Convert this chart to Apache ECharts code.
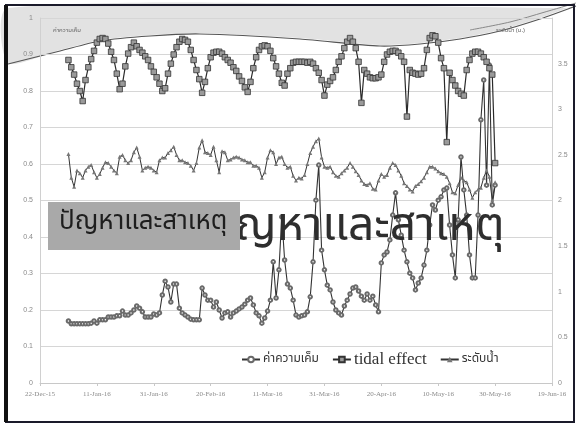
<!DOCTYPE html>
<html><head><meta charset="utf-8">
<script src="https://cdn.jsdelivr.net/npm/echarts@6/dist/echarts.min.js"></script>
<style>html,body{margin:0;padding:0;background:#fff}#c{width:579px;height:427px}</style>
</head><body><div id="c"></div>
<script>
const seriesNames = ['ค่าความเค็ม', 'tidal effect', 'ระดับน้ำ'];
const xTickLabels = ['22-Dec-15','11-Jan-16','31-Jan-16','20-Feb-16','11-Mar-16','31-Mar-16','20-Apr-16','10-May-16','30-May-16','19-Jun-16'];
const firstDay = 10; // 1-Jan-16, counted in days after 22-Dec-15
const salinity = [
0.170,0.162,0.162,0.162,0.162,0.162,0.162,0.162,0.164,0.170,
0.164,0.173,0.173,0.173,0.181,0.181,0.181,0.184,0.184,0.197,
0.186,0.186,0.192,0.200,0.211,0.205,0.195,0.181,0.181,0.181,
0.189,0.186,0.192,0.241,0.279,0.263,0.222,0.271,0.271,0.205,
0.192,0.186,0.181,0.175,0.173,0.173,0.173,0.260,0.241,0.227,
0.227,0.208,0.222,0.200,0.178,0.192,0.195,0.181,0.192,0.197,
0.203,0.208,0.216,0.227,0.233,0.214,0.192,0.184,0.164,0.178,
0.197,0.227,0.332,0.233,0.310,0.455,0.337,0.271,0.260,0.227,
0.186,0.181,0.184,0.186,0.195,0.236,0.332,0.501,0.597,0.364,
0.310,0.268,0.255,0.222,0.200,0.192,0.186,0.211,0.227,0.244,
0.260,0.263,0.252,0.238,0.227,0.244,0.227,0.238,0.214,0.195,
0.329,0.351,0.359,0.392,0.460,0.521,0.447,0.405,0.364,0.332,
0.301,0.288,0.255,0.274,0.288,0.323,0.364,0.433,0.488,0.474,
0.501,0.510,0.529,0.534,0.433,0.351,0.288,0.447,0.619,0.529,
0.460,0.351,0.288,0.288,0.460,0.721,0.830,0.542,0.871,0.488,
0.542];
const tidalEffect = [
3.54,3.46,3.38,3.28,3.20,3.09,3.32,3.46,3.55,3.64,
3.73,3.77,3.78,3.77,3.72,3.63,3.54,3.39,3.22,3.28,
3.47,3.61,3.68,3.73,3.69,3.65,3.62,3.58,3.54,3.47,
3.41,3.35,3.28,3.20,3.23,3.39,3.50,3.60,3.68,3.74,
3.77,3.76,3.74,3.65,3.54,3.43,3.33,3.18,3.30,3.45,
3.57,3.62,3.63,3.63,3.61,3.57,3.54,3.51,3.46,3.42,
3.36,3.31,3.24,3.19,3.30,3.45,3.57,3.65,3.69,3.70,
3.69,3.64,3.56,3.47,3.39,3.29,3.26,3.39,3.45,3.51,
3.52,3.52,3.52,3.52,3.51,3.52,3.50,3.45,3.40,3.32,
3.15,3.27,3.31,3.35,3.43,3.52,3.58,3.67,3.74,3.78,
3.74,3.67,3.52,3.07,3.43,3.39,3.35,3.34,3.34,3.35,
3.38,3.52,3.60,3.63,3.64,3.64,3.62,3.58,3.52,2.92,
3.43,3.40,3.39,3.38,3.39,3.45,3.65,3.78,3.81,3.80,
3.73,3.56,3.45,2.64,3.40,3.32,3.26,3.20,3.17,3.15,
3.43,3.54,3.61,3.63,3.63,3.61,3.57,3.52,3.45,3.38,
2.41];
const waterLevel = [
2.51,2.25,2.15,2.33,2.30,2.25,2.33,2.37,2.39,2.31,
2.25,2.29,2.36,2.42,2.41,2.37,2.33,2.30,2.48,2.50,
2.44,2.41,2.44,2.53,2.58,2.48,2.33,2.36,2.37,2.36,
2.33,2.31,2.44,2.47,2.47,2.52,2.55,2.59,2.50,2.44,
2.44,2.42,2.41,2.38,2.33,2.41,2.58,2.66,2.53,2.52,
2.50,2.59,2.44,2.31,2.54,2.53,2.44,2.45,2.47,2.48,
2.47,2.45,2.44,2.42,2.42,2.38,2.38,2.36,2.25,2.31,
2.47,2.55,2.53,2.40,2.47,2.48,2.40,2.36,2.37,2.27,
2.22,2.25,2.24,2.28,2.40,2.52,2.59,2.65,2.68,2.47,
2.37,2.36,2.37,2.31,2.27,2.26,2.30,2.33,2.36,2.41,
2.37,2.32,2.28,2.22,2.18,2.17,2.19,2.13,2.12,2.22,
2.29,2.26,2.28,2.36,2.41,2.39,2.33,2.27,2.19,2.16,
2.12,2.10,2.16,2.18,2.21,2.25,2.31,2.37,2.37,2.35,
2.32,2.30,2.29,2.26,2.19,2.09,2.08,2.17,2.25,2.22,
2.20,2.12,2.03,2.09,2.12,2.14,2.25,2.33,2.26,2.00,
2.20];
const titleText = 'ปัญหาและสาเหตุ';
const leftAxisTitle = 'ค่าความเค็ม';
const rightAxisTitle = 'ระดับน้ำ (ม.)';

function pairs(arr) { return arr.map((v, i) => [firstDay + i, v]); }
const thaiFont = '"Noto Sans Thai", "Noto Sans", "DejaVu Sans", sans-serif';
const isThai = s => /[\u0E00-\u0E7F]/.test(s);

const chart = echarts.init(document.getElementById('c'), null, {renderer: 'canvas'});
chart.setOption({
  animation: false,
  backgroundColor: '#ffffff',
  grid: {left: 40, right: 27, top: 18, bottom: 44},
  xAxis: {
    type: 'value', min: 0, max: 180, interval: 20,
    axisLine: {lineStyle: {color: '#c8c8c8'}},
    axisTick: {show: true, lineStyle: {color: '#c8c8c8'}, length: 3},
    splitLine: {show: false},
    axisLabel: {fontSize: 7, color: '#8a8a8a', margin: 8, fontFamily: 'Liberation Serif',
      formatter: v => xTickLabels[Math.round(v / 20)]}
  },
  yAxis: [{
    type: 'value', min: 0, max: 1, interval: 0.1,
    axisLine: {show: true, lineStyle: {color: '#d0d0d0'}},
    axisTick: {show: false},
    splitLine: {lineStyle: {color: '#d6d6d6', width: 1}},
    axisLabel: {fontSize: 7, color: '#8a8a8a', margin: 7, formatter: v => String(+v.toFixed(1))}
  }, {
    type: 'value', min: 0, max: 4, interval: 0.5,
    axisLine: {show: true, lineStyle: {color: '#d0d0d0'}},
    axisTick: {show: false},
    splitLine: {show: false},
    axisLabel: {fontSize: 7, color: '#8a8a8a', margin: 6, showMaxLabel: false,
      formatter: v => String(+v.toFixed(1))}
  }],
  legend: {
    data: seriesNames, left: 236, top: 346, itemWidth: 18, itemHeight: 7, itemGap: 13,
    formatter: n => isThai(n) ? '{th|' + n + '}' : '{en|' + n + '}',
    textStyle: {color: '#333', padding: [0, 0, 0, -2],
      rich: {th: {fontFamily: thaiFont, fontSize: 12, color: '#333'},
             en: {fontFamily: 'Liberation Serif', fontSize: 17, color: '#333'}}}
  },
  series: [{
    name: seriesNames[0], type: 'line', yAxisIndex: 0, data: pairs(salinity),
    symbol: 'emptyCircle', symbolSize: 3.5,
    lineStyle: {color: '#333', width: 1.1},
    itemStyle: {color: '#6a6a6a', borderWidth: 0.8}
  }, {
    name: seriesNames[1], type: 'line', yAxisIndex: 1, data: pairs(tidalEffect),
    symbol: 'rect', symbolSize: 5.5,
    lineStyle: {color: '#2a2a2a', width: 1.2},
    itemStyle: {color: '#9a9a9a', borderColor: '#333', borderWidth: 0.8}
  }, {
    name: seriesNames[2], type: 'line', yAxisIndex: 1, data: pairs(waterLevel),
    symbol: 'triangle', symbolSize: 4,
    lineStyle: {color: '#333', width: 1},
    itemStyle: {color: '#777'}
  }],
  graphic: [
    {type: 'polygon', z: -10, silent: true,
     shape: {points: [[8,8],[574,8],[574,6],[540,18],[500,30],[460,38],[420,43],[380,45],[300,38],[200,33],[150,35],[100,40],[60,50],[8,63]], smooth: 0.25},
     style: {fill: '#e2e2e2'}},
    {type: 'polyline', z: -9, silent: true,
     shape: {points: [[8,64],[60,51],[100,41],[150,36],[200,34],[300,39],[380,46],[420,44],[460,39],[500,31],[540,19],[576,6]], smooth: 0.25},
     style: {stroke: '#555', lineWidth: 1.2, fill: null}},
    {type: 'polyline', z: -9, silent: true,
     shape: {points: [[470,30],[510,22],[545,12],[576,3]], smooth: 0.3},
     style: {stroke: '#888', lineWidth: 1, fill: null}},
    {type: 'text', z: 5, left: 53, top: 28, style: {text: leftAxisTitle, fill: '#666', font: '6px ' + thaiFont}},
    {type: 'text', z: 5, left: 496, top: 28, style: {text: rightAxisTitle, fill: '#666', font: '6px ' + thaiFont}},
    {type: 'text', z: 40, left: 207, top: 208,
     style: {text: titleText, fill: '#2e2e2e', font: '46px ' + thaiFont}},
    {type: 'rect', z: 50, shape: {x: 48, y: 202, width: 192, height: 48},
     style: {fill: '#a9a9a9'}},
    {type: 'text', z: 51, left: 59, top: 211,
     style: {text: titleText, fill: '#1e1e1e', font: '26px ' + thaiFont}},
    {type: 'rect', z: 100, silent: true, shape: {x: 6, y: 5, width: 568, height: 417},
     style: {fill: null, stroke: '#1a1a2a', lineWidth: 2}},
    {type: 'rect', z: 100, silent: true, shape: {x: 4, y: 5, width: 4, height: 417},
     style: {fill: '#111'}}
  ]
});
</script></body></html>
